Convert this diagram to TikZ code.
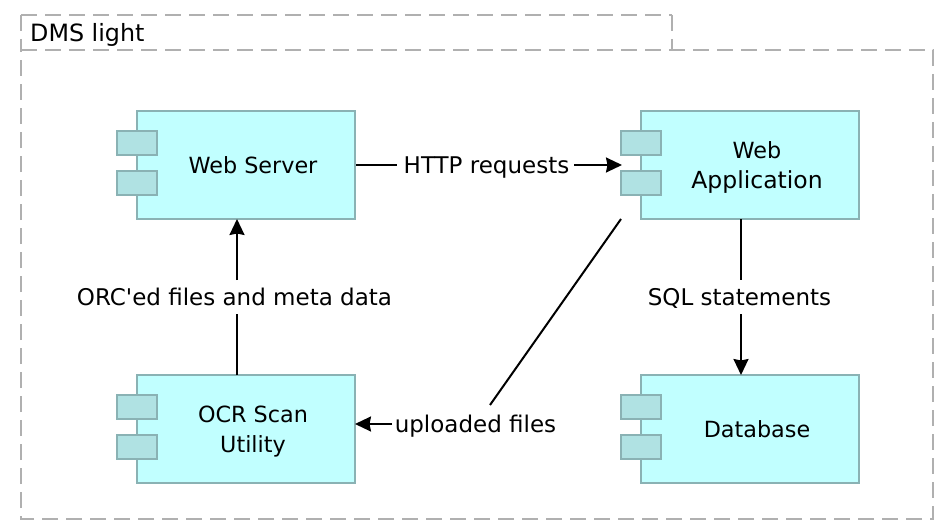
\documentclass[tikz,border=0pt]{standalone}
\usepackage{fontspec}
\setmainfont{DejaVu Sans}
\usetikzlibrary{arrows.meta}
\definecolor{compfill}{HTML}{C1FFFF}
\definecolor{compline}{HTML}{8AB2B4}
\definecolor{portfill}{HTML}{B0E2E3}
\definecolor{framecol}{HTML}{B0B0B0}
\tikzset{
 x=1pt,y=-1pt,
 comp/.style={draw=compline,fill=compfill,line width=2pt,minimum width=218pt,minimum height=108pt,inner sep=0pt,align=center,font=\fontsize{22.3}{30}\selectfont},
 port/.style={draw=compline,fill=portfill,line width=2pt,minimum width=40pt,minimum height=24pt,inner sep=0pt},
 lab/.style={inner sep=0pt,anchor=base,font=\fontsize{23}{26}\selectfont},
 conn/.style={draw=black,line width=2pt},
 arr/.style={conn,-{Stealth[length=16pt,width=15pt,inset=1.5pt]}},
 frameline/.style={draw=framecol,line width=2pt,dash pattern=on 16pt off 8pt}
}
\begin{document}
\begin{tikzpicture}
\useasboundingbox (0,0) rectangle (948,532);
\draw[frameline] (21,15) -- (672,15);
\draw[frameline] (21,15) -- (21,50);
\draw[frameline] (672,15) -- (672,50);
\draw[frameline] (21,50) -- (933,50) -- (933,519) -- (21,519) -- cycle;
\node[lab,anchor=base west] (title) at (30,42) {\fontsize{23.8}{26}\selectfont DMS light};
\node[comp] (ws) at (246,165) {\hspace*{14pt}\raisebox{-1pt}{Web Server}};
\node[port] (ws1) at (137,143) {};
\node[port] (ws2) at (137,183) {};
\node[comp] (wa) at (750,165) {\hspace*{14pt}\raisebox{-8pt}[0pt][0pt]{\parbox{140pt}{\centering Web\\\fontsize{23.5}{30}\selectfont Application}}};
\node[port] (wa1) at (641,143) {};
\node[port] (wa2) at (641,183) {};
\node[comp] (ocr) at (246,429) {\hspace*{14pt}\raisebox{-8pt}[0pt][0pt]{\parbox{140pt}{\centering OCR Scan\\Utility}}};
\node[port] (ocr1) at (137,407) {};
\node[port] (ocr2) at (137,447) {};
\node[comp] (db) at (750,429) {\hspace*{14pt}\raisebox{-1pt}{Database}};
\node[port] (db1) at (641,407) {};
\node[port] (db2) at (641,447) {};
\node[lab] (http) at (486.5,173) {HTTP requests};
\node[lab] (orc) at (234.5,305) {ORC\textquotesingle ed files and meta data};
\node[lab] (sql) at (739.5,305) {SQL statements};
\node[lab] (upl) at (475.5,432) {uploaded files};
\coordinate (httpL) at (397,165);
\coordinate (httpR) at (574,165);
\coordinate (hin) at (622,165);
\coordinate (wsb) at (237,219);
\coordinate (orcT) at (237,280);
\coordinate (orcB) at (237,314);
\coordinate (ocrt) at (237,375);
\coordinate (wab) at (741,219);
\coordinate (sqlT) at (741,280);
\coordinate (sqlB) at (741,314);
\coordinate (dbt) at (741,375);
\coordinate (diagA) at (621,219);
\coordinate (diagB) at (490,405);
\coordinate (uplS) at (392,424);
\coordinate (ocrE) at (355,424);
\draw[conn] (ws.east) -- (httpL);
\draw[arr] (httpR) -- (hin);
\draw[conn] (ocrt) -- (orcB);
\draw[arr] (orcT) -- (wsb);
\draw[conn] (wab) -- (sqlT);
\draw[arr] (sqlB) -- (dbt);
\draw[conn] (diagA) -- (diagB);
\draw[arr] (uplS) -- (ocrE);
\end{tikzpicture}
\end{document}
